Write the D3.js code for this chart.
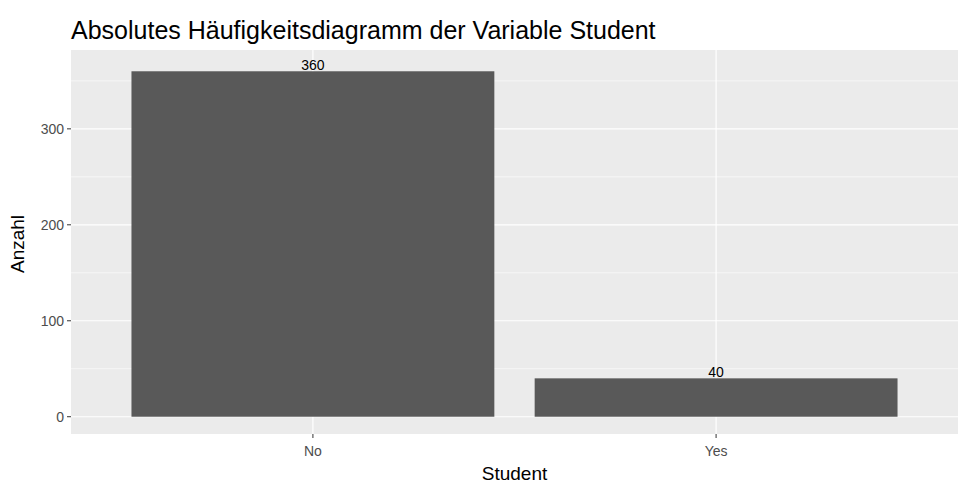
<!DOCTYPE html>
<html><head><meta charset="utf-8">
<script src="https://cdn.jsdelivr.net/npm/d3@7"></script>
<style>body{margin:0;background:#fff}text{font-family:"Liberation Sans",Arial,sans-serif}</style>
</head><body><svg id="c" width="980" height="499"></svg>
<script>
const categories = ["No","Yes"];
const counts = [360,40];
const yTicks = [0,100,200,300];
const yMinor = [50,150,250,350];

const svg = d3.select("#c");
const L=71,R=958,T=54,B=434;
const y = d3.scaleLinear().domain([-18,378]).range([B,T]);
const x = d3.scaleBand().domain(categories).range([L,R]).paddingInner(0.1).paddingOuter(0.15);

svg.append("rect").attr("x",L).attr("y",T-4).attr("width",R-L).attr("height",B-T+4).attr("fill","#ebebeb");
svg.selectAll(".mn").data(yMinor).join("line").attr("x1",L).attr("x2",R).attr("y1",d=>y(d)).attr("y2",d=>y(d)).attr("stroke","#fff").attr("stroke-width",0.6);
svg.selectAll(".mj").data(yTicks).join("line").attr("x1",L).attr("x2",R).attr("y1",d=>y(d)).attr("y2",d=>y(d)).attr("stroke","#fff").attr("stroke-width",1.2);
svg.selectAll(".vx").data(categories).join("line").attr("x1",d=>x(d)+x.bandwidth()/2).attr("x2",d=>x(d)+x.bandwidth()/2).attr("y1",T-4).attr("y2",B).attr("stroke","#fff").attr("stroke-width",1.2);

svg.selectAll(".bar").data(categories).join("rect").attr("x",d=>x(d)).attr("width",x.bandwidth())
  .attr("y",(d,i)=>y(counts[i])).attr("height",(d,i)=>y(0)-y(counts[i])).attr("fill","#595959");
svg.selectAll(".lab").data(categories).join("text").attr("x",d=>x(d)+x.bandwidth()/2).attr("y",(d,i)=>y(counts[i])-1)
  .attr("text-anchor","middle").attr("font-size",14).attr("fill","#000").text((d,i)=>counts[i]);

svg.selectAll(".yt").data(yTicks).join("line").attr("x1",L-4).attr("x2",L).attr("y1",d=>y(d)).attr("y2",d=>y(d)).attr("stroke","#333");
svg.selectAll(".ytl").data(yTicks).join("text").attr("x",L-7).attr("y",d=>y(d)+5).attr("text-anchor","end").attr("font-size",14).attr("fill","#4d4d4d").text(d=>d);
svg.selectAll(".xt").data(categories).join("line").attr("x1",d=>x(d)+x.bandwidth()/2).attr("x2",d=>x(d)+x.bandwidth()/2).attr("y1",B).attr("y2",B+4).attr("stroke","#333");
svg.selectAll(".xtl").data(categories).join("text").attr("x",d=>x(d)+x.bandwidth()/2).attr("y",B+22).attr("text-anchor","middle").attr("font-size",14).attr("fill","#4d4d4d").text(d=>d);

svg.append("text").attr("x",(L+R)/2).attr("y",480).attr("text-anchor","middle").attr("font-size",19).text("Student");
svg.append("text").attr("transform",`translate(24,${(T+B)/2}) rotate(-90)`).attr("text-anchor","middle").attr("font-size",19).text("Anzahl");
svg.append("text").attr("x",71).attr("y",39).attr("font-size",25).text("Absolutes Häufigkeitsdiagramm der Variable Student");
</script></body></html>
